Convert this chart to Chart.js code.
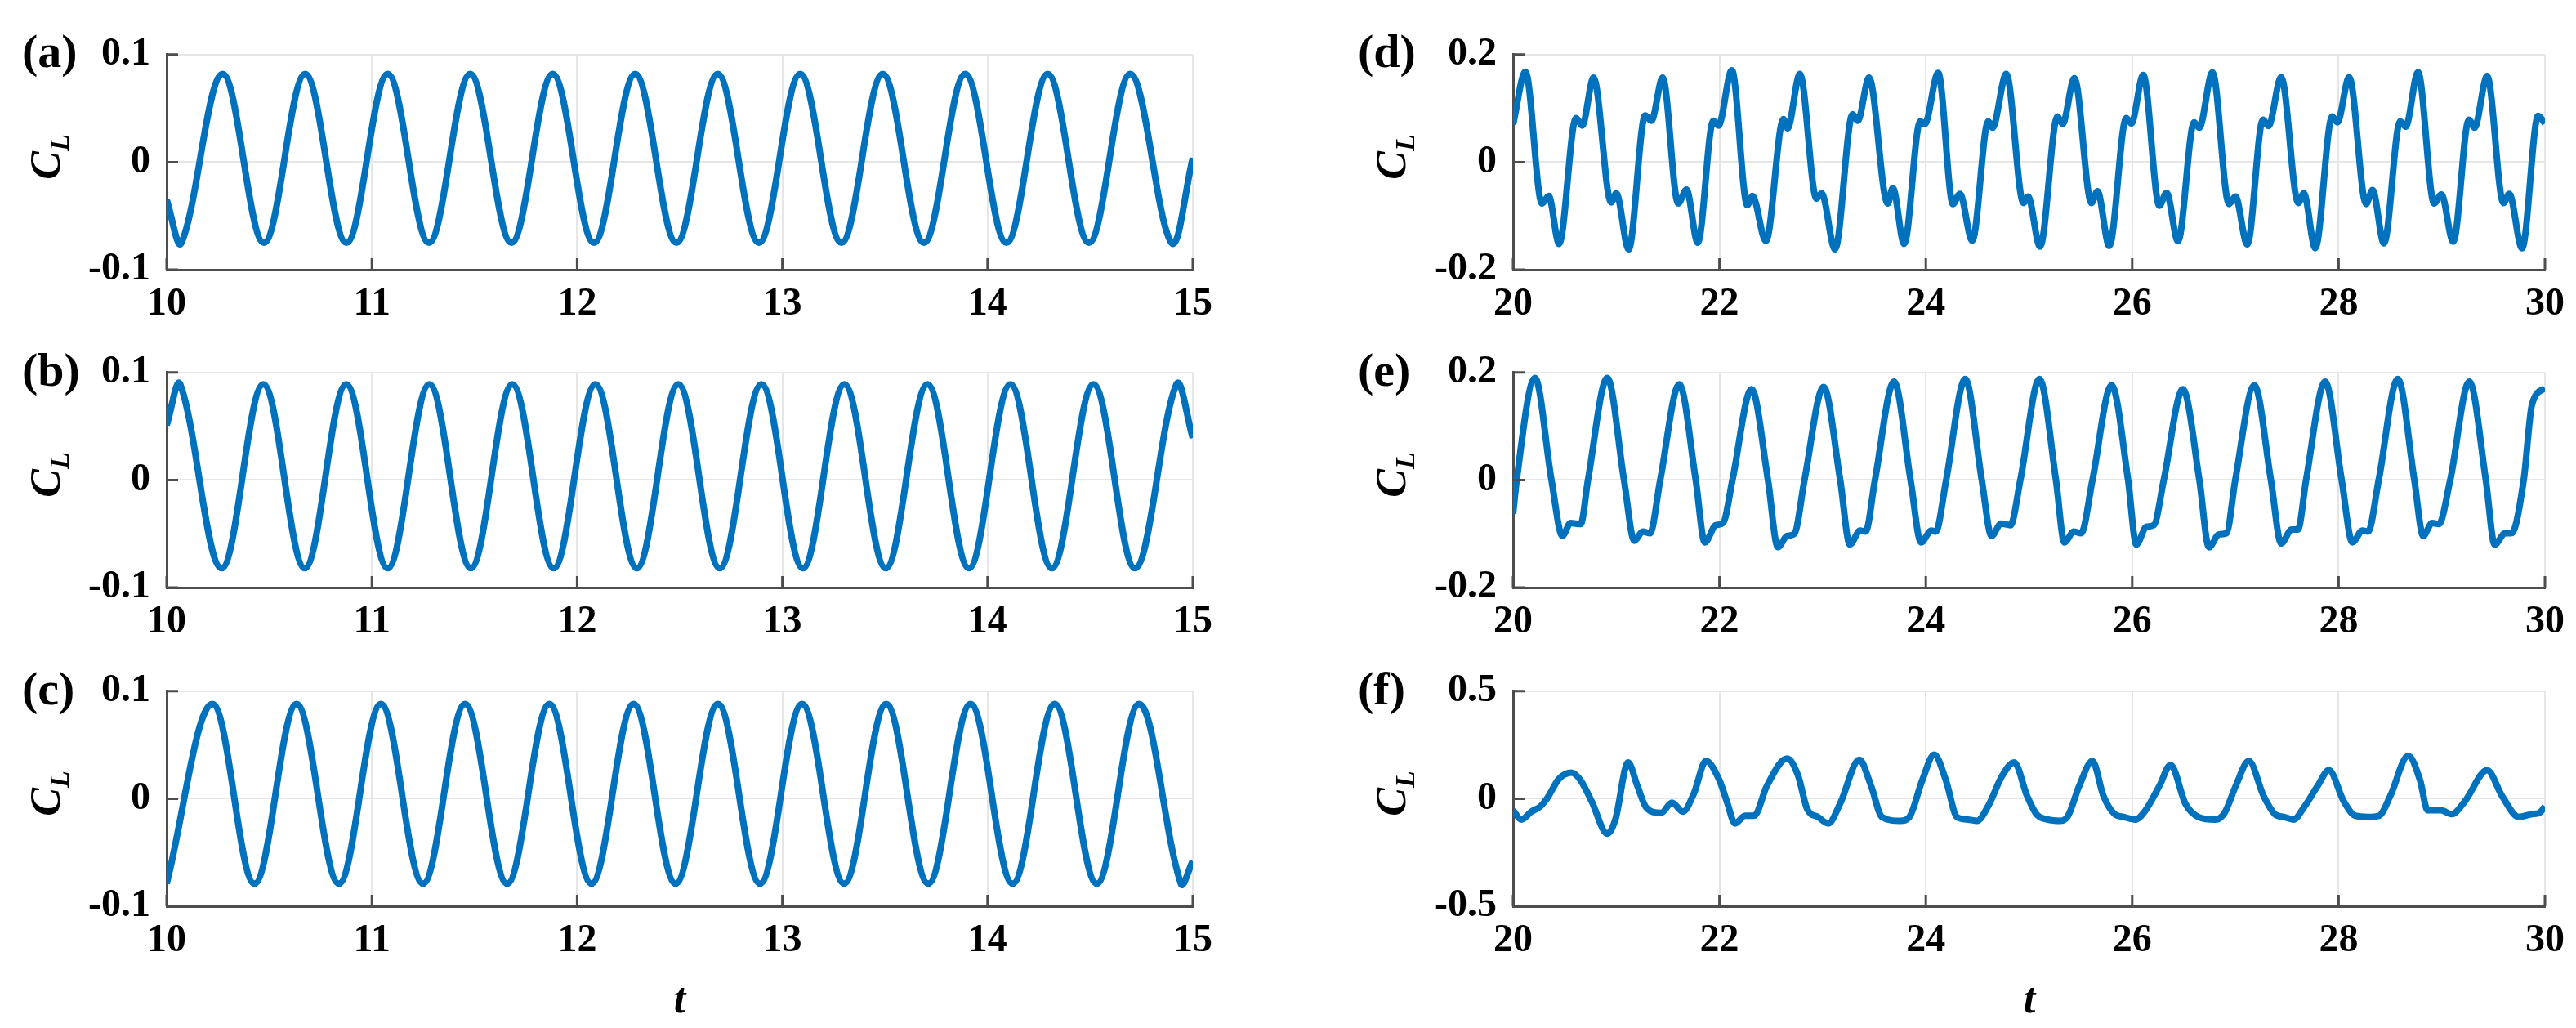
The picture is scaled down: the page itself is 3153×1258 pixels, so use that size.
<!DOCTYPE html>
<html>
<head>
<meta charset="utf-8">
<title>C_L time histories</title>
<script src="https://cdn.jsdelivr.net/npm/chart.js@4.4.1/dist/chart.umd.min.js"></script>
<style>
  html, body { margin: 0; background: #fff; }
  body { position: relative; width: 3153px; height: 1258px; overflow: hidden;
         font-family: "Liberation Serif", "Times New Roman", serif; font-weight: bold; color: #000; }
  canvas { position: absolute; }
  .tag { position: absolute; font-size: 58px; line-height: 58px; }
  .ylab { position: absolute; font-size: 52px; font-style: italic; white-space: nowrap; line-height: 1;
          transform: translate(-50%, -50%) rotate(-90deg); }
  .ylab sub { font-size: 34px; vertical-align: -0.35em; }
  .xlab { position: absolute; font-size: 52px; font-style: italic; line-height: 1; transform: translate(-50%, -50%); }
</style>
</head>
<body>
<canvas id="cA" width="1530" height="392" style="left:0;top:18px"></canvas>
<canvas id="cB" width="1530" height="392" style="left:0;top:407px"></canvas>
<canvas id="cC" width="1530" height="392" style="left:0;top:797px"></canvas>
<canvas id="cD" width="1513" height="392" style="left:1640px;top:18px"></canvas>
<canvas id="cE" width="1513" height="392" style="left:1640px;top:407px"></canvas>
<canvas id="cF" width="1513" height="392" style="left:1640px;top:797px"></canvas>

<div class="tag" style="left:27px;top:34px">(a)</div>
<div class="tag" style="left:27px;top:424px">(b)</div>
<div class="tag" style="left:27px;top:814px">(c)</div>
<div class="tag" style="left:1662px;top:34px">(d)</div>
<div class="tag" style="left:1662px;top:424px">(e)</div>
<div class="tag" style="left:1662px;top:814px">(f)</div>

<div class="ylab" style="left:60px;top:192px">C<sub>L</sub></div>
<div class="ylab" style="left:60px;top:581px">C<sub>L</sub></div>
<div class="ylab" style="left:60px;top:971px">C<sub>L</sub></div>
<div class="ylab" style="left:1707px;top:192px">C<sub>L</sub></div>
<div class="ylab" style="left:1707px;top:581px">C<sub>L</sub></div>
<div class="ylab" style="left:1707px;top:971px">C<sub>L</sub></div>

<div class="xlab" style="left:832px;top:1222px">t</div>
<div class="xlab" style="left:2484px;top:1222px">t</div>

<script>
// tick labels
const xTicksL = [10, 11, 12, 13, 14, 15];
const xTicksR = [20, 22, 24, 26, 28, 30];
const yTicksABC = [-0.1, 0, 0.1];
const yTicksDE = [-0.2, 0, 0.2];
const yTicksF = [-0.5, 0, 0.5];

// (a) end values plus troughs / peaks
const tA = [10.000,
  10.072, 10.273, 10.474, 10.675, 10.876, 11.077, 11.278, 11.479,
  11.680, 11.881, 12.082, 12.283, 12.484, 12.685, 12.886, 13.087,
  13.288, 13.489, 13.690, 13.891, 14.092, 14.293, 14.494, 14.695,
  14.896, 15.000];
const clA = [-0.035,
  -0.075, 0.082, -0.075, 0.082, -0.075, 0.082, -0.075, 0.082,
  -0.075, 0.082, -0.075, 0.082, -0.075, 0.082, -0.075, 0.082,
  -0.075, 0.082, -0.075, 0.082, -0.075, 0.082, -0.075, 0.082,
  -0.075, 0.004];

// (b)
const tB = [10.000,
  10.066, 10.268, 10.471, 10.673, 10.875, 11.077, 11.280, 11.482,
  11.684, 11.886, 12.089, 12.291, 12.493, 12.695, 12.898, 13.100,
  13.302, 13.504, 13.707, 13.909, 14.111, 14.313, 14.516, 14.718,
  14.920, 15.000];
const clB = [0.051,
  0.089, -0.082, 0.089, -0.082, 0.089, -0.082, 0.089, -0.082,
  0.089, -0.082, 0.089, -0.082, 0.089, -0.082, 0.089, -0.082,
  0.089, -0.082, 0.089, -0.082, 0.089, -0.082, 0.089, -0.082,
  0.089, 0.039];

// (c)
const tC = [
  10.000, 10.223, 10.428, 10.633, 10.839, 11.044, 11.249, 11.454,
  11.659, 11.865, 12.070, 12.275, 12.480, 12.686, 12.891, 13.096,
  13.301, 13.506, 13.711, 13.917, 14.122, 14.327, 14.532, 14.738,
  14.942, 15.000];
const clC = [
  -0.079, 0.088, -0.079, 0.088, -0.079, 0.088, -0.079, 0.088,
  -0.079, 0.088, -0.079, 0.088, -0.079, 0.088, -0.079, 0.088,
  -0.079, 0.088, -0.079, 0.088, -0.079, 0.088, -0.079, 0.088,
  -0.079, -0.058];

// (d) peak, shoulder, bump, trough, shoulder, dip per cycle
const tD = [20.000,
  20.120, 20.280, 20.345, 20.446, 20.610, 20.670,
  20.780, 20.950, 21.000, 21.120, 21.280, 21.340,
  21.450, 21.600, 21.680, 21.790, 21.940, 21.990,
  22.120, 22.270, 22.320, 22.450, 22.620, 22.660,
  22.780, 22.940, 22.990, 23.120, 23.290, 23.340,
  23.450, 23.630, 23.680, 23.790, 23.946, 23.990,
  24.120, 24.263, 24.330, 24.450, 24.605, 24.646,
  24.780, 24.946, 24.990, 25.107, 25.276, 25.325,
  25.440, 25.605, 25.663, 25.778, 25.942, 25.992,
  26.107, 26.263, 26.333, 26.444, 26.600, 26.650,
  26.778, 26.938, 27.000, 27.115, 27.267, 27.320,
  27.444, 27.609, 27.663, 27.774, 27.938, 27.988,
  28.103, 28.267, 28.329, 28.440, 28.597, 28.650,
  28.770, 28.926, 28.996, 29.111, 29.263, 29.317,
  29.440, 29.597, 29.654, 29.778, 29.934, 30.000];
const clD = [0.070,
  0.168, -0.077, -0.063, -0.152, 0.082, 0.068,
  0.157, -0.075, -0.058, -0.162, 0.087, 0.077,
  0.157, -0.077, -0.051, -0.150, 0.077, 0.068,
  0.171, -0.080, -0.063, -0.147, 0.080, 0.063,
  0.164, -0.068, -0.058, -0.162, 0.089, 0.077,
  0.157, -0.077, -0.048, -0.152, 0.076, 0.071,
  0.166, -0.078, -0.059, -0.146, 0.076, 0.064,
  0.164, -0.076, -0.064, -0.157, 0.085, 0.071,
  0.156, -0.076, -0.054, -0.156, 0.082, 0.072,
  0.162, -0.081, -0.057, -0.147, 0.074, 0.064,
  0.167, -0.078, -0.064, -0.153, 0.079, 0.067,
  0.158, -0.076, -0.058, -0.160, 0.085, 0.074,
  0.158, -0.078, -0.052, -0.151, 0.076, 0.066,
  0.167, -0.077, -0.060, -0.148, 0.079, 0.064,
  0.160, -0.076, -0.059, -0.160, 0.086, 0.072];

// (e) rise crossing, peak, fall crossing, trough, bump, shoulder per cycle
const tE = [20.000,
  20.035, 20.212, 20.372, 20.478, 20.556, 20.655,
  20.726, 20.913, 21.075, 21.175, 21.257, 21.327,
  21.426, 21.611, 21.770, 21.858, 21.965, 22.035,
  22.126, 22.311, 22.470, 22.566, 22.655, 22.726,
  22.824, 23.009, 23.170, 23.264, 23.363, 23.416,
  23.507, 23.692, 23.852, 23.954, 24.053, 24.096,
  24.197, 24.382, 24.542, 24.637, 24.730, 24.820,
  24.916, 25.101, 25.261, 25.343, 25.433, 25.505,
  25.615, 25.800, 25.960, 26.040, 26.137, 26.210,
  26.306, 26.491, 26.651, 26.744, 26.841, 26.913,
  26.999, 27.184, 27.344, 27.444, 27.545, 27.606,
  27.685, 27.870, 28.030, 28.134, 28.231, 28.285,
  28.389, 28.574, 28.734, 28.820, 28.906, 28.971,
  29.082, 29.267, 29.427, 29.513, 29.614, 29.675,
  29.794, 29.874, 30.000];
const clE = [-0.063,
  0, 0.190, 0, -0.104, -0.080, -0.082,
  0, 0.190, 0, -0.113, -0.096, -0.099,
  0, 0.178, 0, -0.116, -0.084, -0.080,
  0, 0.169, 0, -0.125, -0.104, -0.100,
  0, 0.173, 0, -0.120, -0.094, -0.096,
  0, 0.183, 0, -0.116, -0.094, -0.096,
  0, 0.188, 0, -0.104, -0.081, -0.084,
  0, 0.188, 0, -0.116, -0.096, -0.099,
  0, 0.176, 0, -0.120, -0.087, -0.084,
  0, 0.169, 0, -0.125, -0.101, -0.099,
  0, 0.176, 0, -0.118, -0.092, -0.092,
  0, 0.183, 0, -0.116, -0.094, -0.096,
  0, 0.188, 0, -0.104, -0.080, -0.082,
  0, 0.183, 0, -0.120, -0.099, -0.099,
  0, 0.140, 0.171];

// (f)
const tF = [
  20.000, 20.081, 20.177, 20.265, 20.336, 20.442, 20.566, 20.655, 20.761, 20.913,
  20.991, 21.115, 21.204, 21.292, 21.434, 21.540, 21.646, 21.752, 21.869, 22.000,
  22.071, 22.152, 22.248, 22.336, 22.460, 22.655, 22.761, 22.850, 22.956, 23.055,
  23.168, 23.356, 23.469, 23.575, 23.752, 23.841, 23.965, 24.081, 24.195, 24.301,
  24.407, 24.496, 24.602, 24.743, 24.856, 24.982, 25.072, 25.180, 25.307, 25.379,
  25.487, 25.614, 25.722, 25.830, 25.920, 26.030, 26.120, 26.264, 26.372, 26.516,
  26.643, 26.805, 26.895, 27.004, 27.130, 27.274, 27.383, 27.473, 27.563, 27.670,
  27.798, 27.906, 28.050, 28.159, 28.285, 28.394, 28.500, 28.675, 28.790, 28.863,
  28.990, 29.097, 29.224, 29.440, 29.585, 29.747, 29.874, 29.946, 30.000];
const clF = [
  -0.054, -0.097, -0.060, -0.036, 0.006, 0.091, 0.121, 0.085, -0.012, -0.163,
  -0.097, 0.169, 0.060, -0.042, -0.066, -0.018, -0.060, 0.024, 0.175, 0.085,
  -0.012, -0.115, -0.079, -0.079, 0.060, 0.187, 0.109, -0.048, -0.085, -0.115,
  -0.024, 0.181, 0.060, -0.085, -0.103, -0.085, 0.085, 0.205, 0.085, -0.085,
  -0.097, -0.103, -0.036, 0.109, 0.169, 0.012, -0.072, -0.097, -0.103, -0.079,
  0.060, 0.175, 0.012, -0.072, -0.085, -0.097, -0.060, 0.060, 0.157, -0.024,
  -0.085, -0.097, -0.066, 0.060, 0.175, 0.012, -0.072, -0.085, -0.097, -0.036,
  0.060, 0.133, -0.012, -0.079, -0.085, -0.079, 0.012, 0.199, 0.085, -0.054,
  -0.054, -0.072, -0.012, 0.133, 0.012, -0.085, -0.072, -0.066, -0.036];

const blue = '#0072bd';
const tickFont = { family: 'Liberation Serif', size: 48, weight: 'bold' };

// small inward tick marks on the left and bottom axes
const innerTicks = {
  id: 'innerTicks',
  afterDraw(chart) {
    const { ctx, chartArea: a, scales: { x, y } } = chart;
    ctx.save();
    ctx.strokeStyle = '#4d4d4d';
    ctx.lineWidth = 3;
    ctx.beginPath();
    x.ticks.forEach(tk => {
      const px = x.getPixelForValue(tk.value);
      ctx.moveTo(px, a.bottom);
      ctx.lineTo(px, a.bottom - 14);
    });
    y.ticks.forEach(tk => {
      const py = y.getPixelForValue(tk.value);
      ctx.moveTo(a.left, py);
      ctx.lineTo(a.left + 14, py);
    });
    ctx.stroke();
    ctx.restore();
  }
};

function panel(id, t, cl, xTicks, yTicks, yWidth, padRight, smooth) {
  new Chart(document.getElementById(id), {
    type: 'line',
    data: {
      datasets: [Object.assign({
        data: t.map((v, i) => ({ x: v, y: cl[i] })),
        borderColor: blue,
        borderWidth: 8,
        pointRadius: 0,
        fill: false
      }, smooth)]
    },
    options: {
      responsive: false,
      animation: false,
      devicePixelRatio: 1,
      layout: { padding: { top: 36, right: padRight, bottom: 0, left: 0 } },
      plugins: { legend: { display: false }, tooltip: { enabled: false } },
      scales: {
        x: {
          type: 'linear',
          min: xTicks[0],
          max: xTicks[xTicks.length - 1],
          afterBuildTicks: s => { s.ticks = xTicks.map(v => ({ value: v })); },
          afterFit: s => { s.height = 80; },
          ticks: { font: tickFont, color: '#000', padding: 14, maxRotation: 0, autoSkip: false, callback: v => String(v) },
          grid: { color: '#e6e6e6', lineWidth: 2, drawTicks: false },
          border: { color: '#4d4d4d', width: 3 }
        },
        y: {
          min: yTicks[0],
          max: yTicks[yTicks.length - 1],
          afterBuildTicks: s => { s.ticks = yTicks.map(v => ({ value: v })); },
          afterFit: s => { s.width = yWidth; },
          ticks: { font: tickFont, color: '#000', padding: 20, callback: v => String(v) },
          grid: { color: '#e6e6e6', lineWidth: 2, drawTicks: false },
          border: { color: '#4d4d4d', width: 3 }
        }
      }
    },
    plugins: [innerTicks]
  });
}

// sine-like panels: bezier through peaks and troughs only
const sine = { tension: 0.364 };
const mono = { cubicInterpolationMode: 'monotone' };

panel('cA', tA, clA, xTicksL, yTicksABC, 204, 70, sine);
panel('cB', tB, clB, xTicksL, yTicksABC, 204, 70, sine);
panel('cC', tC, clC, xTicksL, yTicksABC, 204, 70, sine);
panel('cD', tD, clD, xTicksR, yTicksDE, 212, 37, mono);
panel('cE', tE, clE, xTicksR, yTicksDE, 212, 37, mono);
panel('cF', tF, clF, xTicksR, yTicksF, 212, 37, mono);
</script>
</body>
</html>
